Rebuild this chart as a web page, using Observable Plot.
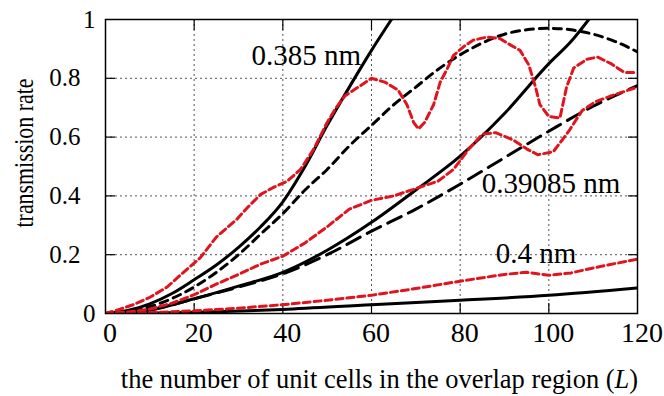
<!DOCTYPE html>
<html><head><meta charset="utf-8">
<script src="https://cdn.jsdelivr.net/npm/d3@7"></script>
<script src="https://cdn.jsdelivr.net/npm/@observablehq/plot@0.6"></script>
<style>html,body{margin:0;padding:0;background:#fff}svg{display:block}</style>
</head><body><div id="chart"></div>
<script>
// ---- data (L = unit cells, T = transmission rate) ----
const s385SolidL = [0,5,10,15,20,25,30,35,40,45,50,55,60,64.5];
const s385SolidT = [0,0.01,0.033,0.068,0.115,0.165,0.225,0.295,0.38,0.5,0.64,0.77,0.895,1.0];

const s385DashL = [0,5,10,15,20,25,30,35,40,45,50,55,60,65,70,75,80,85,90,95,100,105,110,115,120];
const s385DashT = [0,0.006,0.023,0.051,0.09,0.14,0.2,0.27,0.34,0.42,0.49,0.57,0.64,0.71,0.77,0.83,0.88,0.92,0.95,0.965,0.97,0.965,0.95,0.925,0.89];

const s385RedL = [0,3.3,6.3,10,13.8,17.6,21.4,25,29.6,32,35,38,41,44,47,50,52,54,57,60,63,66,68,69.5,70.6,72,74,75.5,77,78.5,81,83,86,89,91.5,93.5,95.5,97,98,100,102.5,104,105.6,108.6,111,114,117,120];
const s385RedT = [0,0.015,0.03,0.055,0.089,0.14,0.19,0.26,0.32,0.36,0.405,0.43,0.45,0.49,0.56,0.65,0.7,0.74,0.77,0.8,0.787,0.76,0.71,0.65,0.628,0.65,0.71,0.787,0.83,0.878,0.91,0.93,0.94,0.935,0.912,0.895,0.845,0.77,0.71,0.67,0.665,0.77,0.835,0.865,0.872,0.85,0.82,0.82];

const s391SolidL = [0,10,20,30,40,50,60,70,80,90,100,105,109];
const s391SolidT = [0,0.012,0.05,0.093,0.14,0.215,0.31,0.42,0.535,0.68,0.85,0.925,1.0];

const s391DashL = [0,10,20,30,40,50,60,70,80,90,100,110,120];
const s391DashT = [0,0.012,0.05,0.09,0.135,0.2,0.28,0.355,0.44,0.53,0.62,0.705,0.775];

const s391RedL = [0,5,10,15,20,25,30,35,40,45,50,55,60,65,70,75,78.5,82,85,88,92,95,97.5,101,104.5,107.5,110.5,114,117,120];
const s391RedT = [0,0.005,0.015,0.035,0.064,0.1,0.133,0.168,0.195,0.24,0.295,0.355,0.385,0.4,0.425,0.45,0.49,0.56,0.61,0.615,0.59,0.56,0.54,0.55,0.62,0.69,0.72,0.74,0.755,0.77];

const s400SolidL = [0,20,40,60,80,100,120];
const s400SolidT = [0,0.004,0.014,0.03,0.045,0.062,0.087];

const s400RedL = [0,10,20,30,40,50,60,70,80,90,95,100,105,110,115,120];
const s400RedT = [0,0.003,0.009,0.018,0.03,0.045,0.062,0.085,0.11,0.133,0.14,0.13,0.138,0.155,0.17,0.185];

const xTicks = [0,20,40,60,80,100,120];
const xGrid = [20,40,60,80,100];
const yEnds = [0,1];
const yGrid = [0.2,0.4,0.6,0.8];

const curveLabels = ["0.385 nm","0.39085 nm","0.4 nm"];
const curveLabelL = [45.3,100.5,97.1];
const curveLabelT = [0.876,0.44,0.205];

const xTitle = "the number of unit cells in the overlap region (L)";
const yTitle = "transmission rate";

// ---- build ----
const zip = (L, T) => L.map((l, i) => ({L: l, T: T[i]}));
const RED = "#e0141e";
const FONT = "Liberation Serif, Times New Roman, serif";
const lbl = curveLabels.map((t, i) => ({text: t, L: curveLabelL[i], T: curveLabelT[i]}));
const line = (L, T, o) => Plot.line(zip(L, T), {x: "L", y: "T", strokeWidth: 3, clip: true, ...o});
const grid = {stroke: "#000", strokeOpacity: 0.85, strokeWidth: 0.8, strokeDasharray: "2,3"};
const tick = {tickSize: 10, text: null, strokeWidth: 1.2, label: null};

const plot = Plot.plot({
  width: 664, height: 396,
  marginLeft: 105, marginRight: 27, marginTop: 19, marginBottom: 83,
  style: {fontFamily: FONT, background: "#fff", color: "#000"},
  x: {domain: [0, 120], label: null},
  y: {domain: [0, 1], label: null},
  marks: [
    Plot.gridX(xGrid, grid),
    Plot.gridY(yGrid, grid),
    // inward ticks on all four sides
    Plot.axisX(xGrid, {anchor: "bottom", dy: -10, ...tick}),
    Plot.axisX(xGrid, {anchor: "top", dy: 10, ...tick}),
    Plot.axisY(yGrid, {anchor: "left", dx: 10, ...tick}),
    Plot.axisY(yGrid, {anchor: "right", dx: -10, ...tick}),
    // tick labels
    Plot.text(xTicks, {x: d => d, frameAnchor: "bottom", text: d => String(d), textAnchor: "middle", dx: 4.5, dy: 28, fontSize: 28, fill: "#000"}),
    Plot.text(yEnds, {y: d => d, frameAnchor: "left", text: d => String(d), dx: -10, textAnchor: "end", fontSize: 25, fill: "#000"}),
    Plot.text(yGrid, {y: d => d, frameAnchor: "left", text: d => String(d), dx: -25, textAnchor: "end", fontSize: 25, fill: "#000"}),
    line(s385SolidL, s385SolidT, {stroke: "#000", curve: "monotone-x"}),
    line(s385DashL, s385DashT, {stroke: "#000", curve: "monotone-x", strokeDasharray: "8,6"}),
    line(s391SolidL, s391SolidT, {stroke: "#000", curve: "monotone-x"}),
    line(s391DashL, s391DashT, {stroke: "#000", curve: "monotone-x", strokeDasharray: "15,8"}),
    line(s400SolidL, s400SolidT, {stroke: "#000", curve: "monotone-x"}),
    line(s385RedL, s385RedT, {stroke: RED, strokeDasharray: "7,4"}),
    line(s391RedL, s391RedT, {stroke: RED, strokeDasharray: "7,4"}),
    line(s400RedL, s400RedT, {stroke: RED, strokeDasharray: "7,4"}),
    Plot.frame({stroke: "#000", strokeWidth: 1.5}),
    Plot.text(lbl, {x: "L", y: "T", text: "text", fontSize: 29, fill: "#000"}),
    Plot.text([xTitle], {x: () => 61.8, y: () => -0.225, textAnchor: "middle", fontSize: 26.5, fill: "#000"}),
    Plot.text([yTitle], {x: () => -18.25, y: () => 0.546, rotate: -90, textAnchor: "middle", lineAnchor: "middle", fontSize: 27, fill: "#000"})
  ]
});

const texts = d3.select(plot).selectAll("text");
// italic L in the x title
texts.filter(function () { return this.textContent === xTitle; })
  .each(function () {
    const t = d3.select(this);
    t.text("");
    t.append("tspan").text("the number of unit cells in the overlap region (");
    t.append("tspan").attr("font-style", "italic").text("L");
    t.append("tspan").text(")");
  });
// fit the y title to the reference's measured length
texts.filter(function () { return this.textContent === yTitle; })
  .attr("textLength", 149).attr("lengthAdjust", "spacingAndGlyphs");

document.getElementById("chart").appendChild(plot);
</script>
</body></html>
